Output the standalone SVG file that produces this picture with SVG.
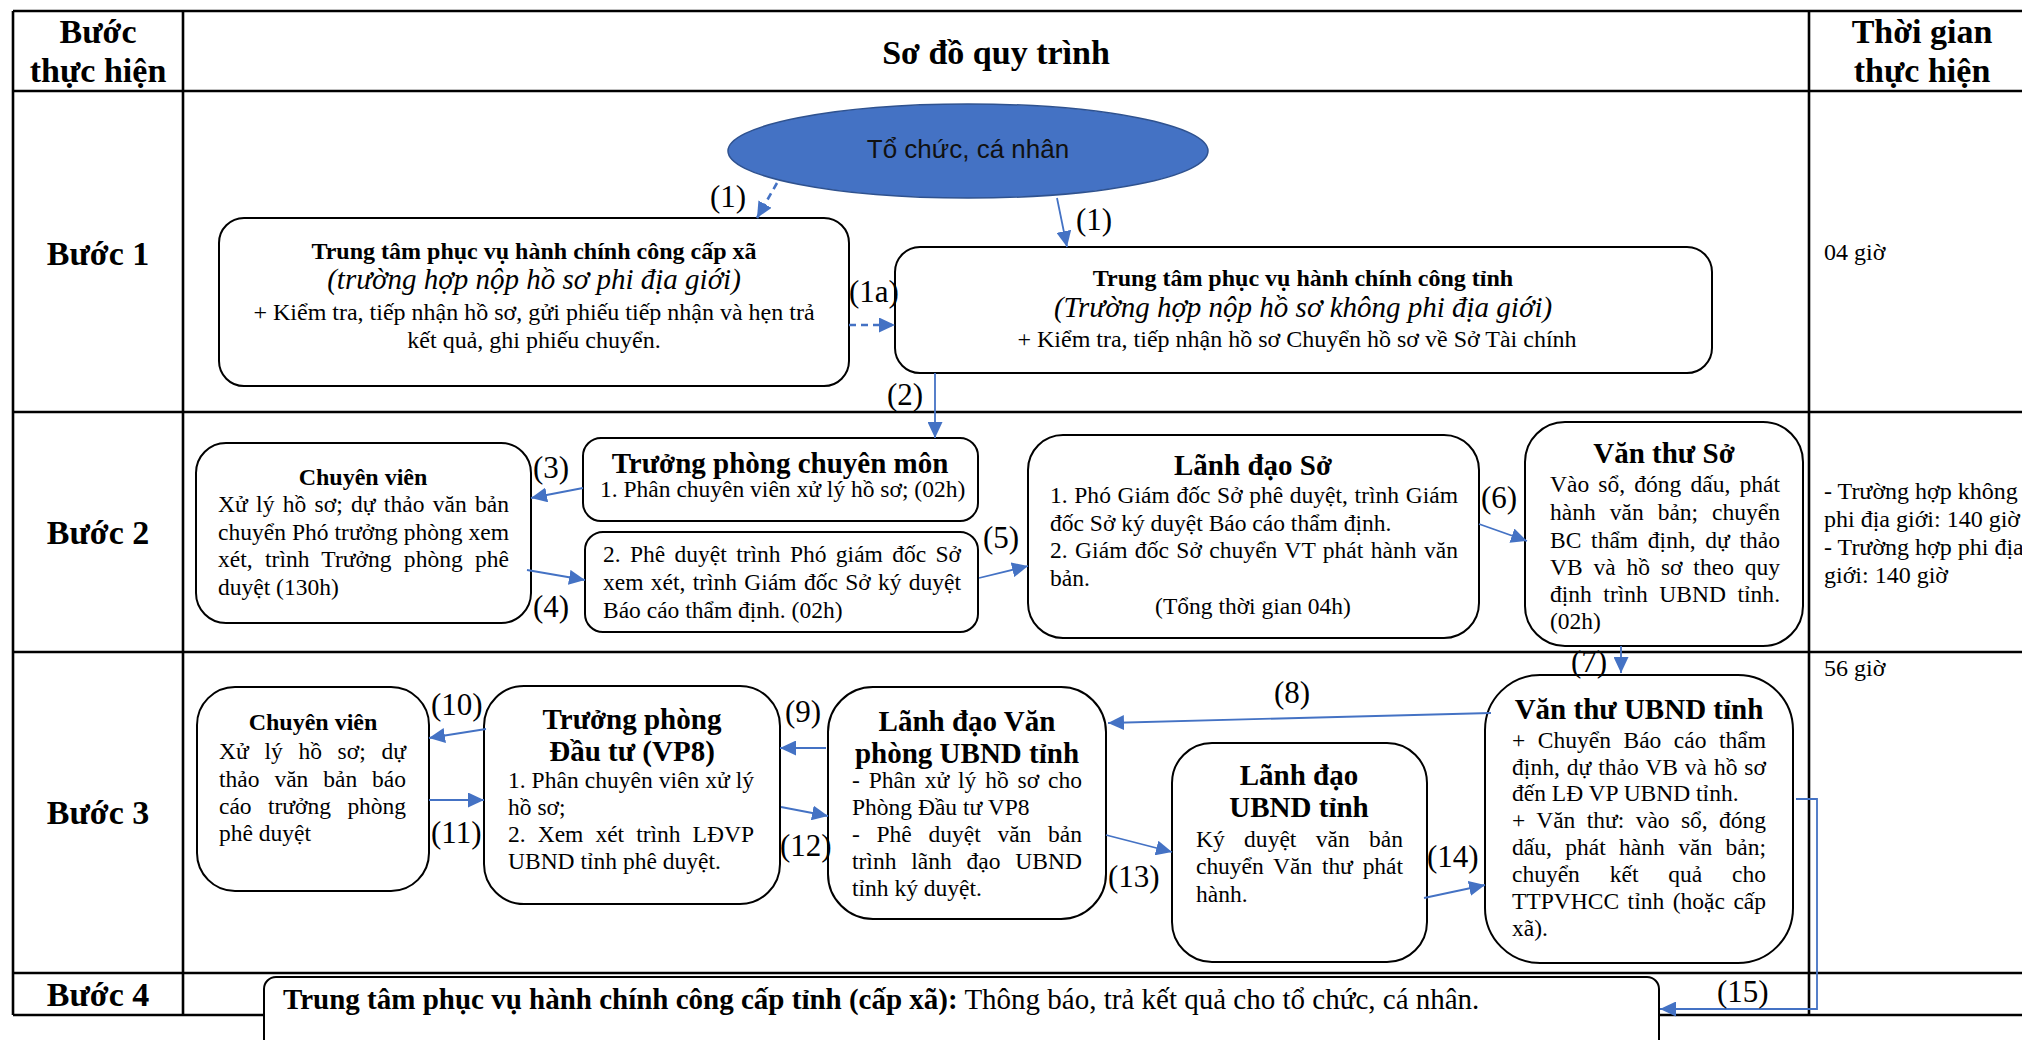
<svg xmlns="http://www.w3.org/2000/svg" width="2022" height="1040" viewBox="0 0 2022 1040">
<defs>
<marker id="ah" markerUnits="userSpaceOnUse" markerWidth="16" markerHeight="15" refX="16" refY="7.5" orient="auto"><path d="M0,0 L16,7.5 L0,15 z" fill="#4472C4"/></marker>
<style>
.tb{stroke:#000;stroke-width:2.6;fill:none}
.nd{fill:#fff;stroke:#000;stroke-width:2}
text{font-family:"Liberation Serif","Times New Roman",serif;fill:#000}
.hd{font-size:34px;font-weight:bold;text-anchor:middle}
.b24{font-size:24px;font-weight:bold;text-anchor:middle}
.b29{font-size:29px;font-weight:bold;text-anchor:middle}
.i29{font-size:29px;font-style:italic;text-anchor:middle}
.r24{font-size:24px;text-anchor:middle}
.r24s{font-size:24px}
.bd{font-size:23.5px}
.bdc{font-size:23.5px;text-anchor:middle}
.lb{font-size:31px}
.cn{stroke:#4472C4;stroke-width:1.8;fill:none;marker-end:url(#ah)}
.ds{stroke:#4472C4;stroke-width:2.6;fill:none;stroke-dasharray:7 5;marker-end:url(#ah)}
</style>
</defs>
<g id="table">
<line class="tb" x1="13" y1="11" x2="2022" y2="11"/>
<line class="tb" x1="13" y1="91" x2="2022" y2="91"/>
<line class="tb" x1="13" y1="412" x2="2022" y2="412"/>
<line class="tb" x1="13" y1="652" x2="2022" y2="652"/>
<line class="tb" x1="13" y1="973" x2="2022" y2="973"/>
<line class="tb" x1="13" y1="1015" x2="2022" y2="1015"/>
<line class="tb" x1="13" y1="11" x2="13" y2="1015"/>
<line class="tb" x1="183" y1="11" x2="183" y2="1015"/>
<line class="tb" x1="1809" y1="11" x2="1809" y2="1015"/>
<text class="hd" x="98" y="43">Bước</text>
<text class="hd" x="98" y="82">thực hiện</text>
<text class="hd" x="996" y="64">Sơ đồ quy trình</text>
<text class="hd" x="1922" y="43">Thời gian</text>
<text class="hd" x="1922" y="82">thực hiện</text>
<text class="hd" x="98" y="265">Bước 1</text>
<text class="hd" x="98" y="544">Bước 2</text>
<text class="hd" x="98" y="824">Bước 3</text>
<text class="hd" x="98" y="1006">Bước 4</text>
<text class="r24s" x="1824" y="260">04 giờ</text>
<text class="r24s" x="1824" y="499">- Trường hợp không</text>
<text class="r24s" x="1824" y="527">phi địa giới: 140 giờ</text>
<text class="r24s" x="1824" y="555">- Trường hợp phi địa</text>
<text class="r24s" x="1824" y="583">giới: 140 giờ</text>
<text class="r24s" x="1824" y="676">56 giờ</text>
</g>
<g id="n-tochuc">
<ellipse cx="968" cy="151" rx="240" ry="47" fill="#4472C4" stroke="#2F528F" stroke-width="1.5"/>
<text x="968" y="158" style="font-family:'Liberation Sans','Open Sans',sans-serif;font-size:26px;text-anchor:middle;fill:#111">Tổ chức, cá nhân</text>
</g>
<g id="n-ttxa">
<rect class="nd" x="219" y="218" width="630" height="168" rx="25"/>
<text class="b24" x="534" y="259">Trung tâm phục vụ hành chính công cấp xã</text>
<text class="i29" x="534" y="289">(trường hợp nộp hồ sơ phi địa giới)</text>
<text class="r24" x="534" y="320">+ Kiểm tra, tiếp nhận hồ sơ, gửi phiếu tiếp nhận và hẹn trả</text>
<text class="r24" x="534" y="348">kết quả, ghi phiếu chuyển.</text>
</g>
<g id="n-tttinh">
<rect class="nd" x="895" y="247" width="817" height="126" rx="25"/>
<text class="b24" x="1303" y="286">Trung tâm phục vụ hành chính công tỉnh</text>
<text class="i29" x="1303" y="317">(Trường hợp nộp hồ sơ không phi địa giới)</text>
<text class="r24" x="1297" y="347">+ Kiểm tra, tiếp nhận hồ sơ Chuyển hồ sơ về Sở Tài chính</text>
</g>
<g id="n-cv1">
<rect class="nd" x="196" y="443" width="335" height="180" rx="30"/>
<text class="b24" x="363" y="485">Chuyên viên</text>
<text class="bd" x="218" y="512" textLength="291" lengthAdjust="spacing" word-spacing="2.4">Xử lý hồ sơ; dự thảo văn bản</text>
<text class="bd" x="218" y="540" textLength="291" lengthAdjust="spacing">chuyển Phó trưởng phòng xem</text>
<text class="bd" x="218" y="567" textLength="291" lengthAdjust="spacing" word-spacing="6.4">xét, trình Trưởng phòng phê</text>
<text class="bd" x="218" y="595">duyệt (130h)</text>
</g>
<g id="n-tp1">
<rect class="nd" x="583" y="438" width="395" height="83" rx="18"/>
<text class="b29" x="780" y="473">Trưởng phòng chuyên môn</text>
<text class="bd" x="600" y="497">1. Phân chuyên viên xử lý hồ sơ; (02h)</text>
</g>
<g id="n-tp2">
<rect class="nd" x="585" y="532" width="393" height="100" rx="18"/>
<text class="bd" x="603" y="562" textLength="358" lengthAdjust="spacing" word-spacing="3.4">2. Phê duyệt trình Phó giám đốc Sở</text>
<text class="bd" x="603" y="590" textLength="358" lengthAdjust="spacing" word-spacing="1.4">xem xét, trình Giám đốc Sở ký duyệt</text>
<text class="bd" x="603" y="618">Báo cáo thẩm định. (02h)</text>
</g>
<g id="n-lds">
<rect class="nd" x="1028" y="435" width="451" height="203" rx="35"/>
<text class="b29" x="1253" y="475">Lãnh đạo Sở</text>
<text class="bd" x="1050" y="503" textLength="408" lengthAdjust="spacing" word-spacing="0.7">1. Phó Giám đốc Sở phê duyệt, trình Giám</text>
<text class="bd" x="1050" y="531">đốc Sở ký duyệt Báo cáo thẩm định.</text>
<text class="bd" x="1050" y="558" textLength="408" lengthAdjust="spacing" word-spacing="1.5">2. Giám đốc Sở chuyển VT phát hành văn</text>
<text class="bd" x="1050" y="586">bản.</text>
<text class="bdc" x="1253" y="614">(Tổng thời gian 04h)</text>
</g>
<g id="n-vts">
<rect class="nd" x="1525" y="422" width="278" height="224" rx="40"/>
<text class="b29" x="1664" y="463">Văn thư Sở</text>
<text class="bd" x="1550" y="492" textLength="230" lengthAdjust="spacing" word-spacing="3.3">Vào sổ, đóng dấu, phát</text>
<text class="bd" x="1550" y="520" textLength="230" lengthAdjust="spacing" word-spacing="8.1">hành văn bản; chuyển</text>
<text class="bd" x="1550" y="548" textLength="230" lengthAdjust="spacing" word-spacing="3.8">BC thẩm định, dự thảo</text>
<text class="bd" x="1550" y="575" textLength="230" lengthAdjust="spacing" word-spacing="4.9">VB và hồ sơ theo quy</text>
<text class="bd" x="1550" y="602" textLength="230" lengthAdjust="spacing" word-spacing="5.7">định trình UBND tỉnh.</text>
<text class="bd" x="1550" y="629">(02h)</text>
</g>
<g id="n-cv2">
<rect class="nd" x="197" y="687" width="232" height="204" rx="38"/>
<text class="b24" x="313" y="730">Chuyên viên</text>
<text class="bd" x="219" y="759" textLength="187" lengthAdjust="spacing" word-spacing="9.6">Xử lý hồ sơ; dự</text>
<text class="bd" x="219" y="787" textLength="187" lengthAdjust="spacing" word-spacing="9">thảo văn bản báo</text>
<text class="bd" x="219" y="814" textLength="187" lengthAdjust="spacing" word-spacing="10.7">cáo trưởng phòng</text>
<text class="bd" x="219" y="841">phê duyệt</text>
</g>
<g id="n-tp3">
<rect class="nd" x="484" y="686" width="296" height="218" rx="40"/>
<text class="b29" x="632" y="729">Trưởng phòng</text>
<text class="b29" x="632" y="761">Đầu tư (VP8)</text>
<text class="bd" x="508" y="788" textLength="246" lengthAdjust="spacing">1. Phân chuyên viên xử lý</text>
<text class="bd" x="508" y="815">hồ sơ;</text>
<text class="bd" x="508" y="842" textLength="246" lengthAdjust="spacing" word-spacing="6.2">2. Xem xét trình LĐVP</text>
<text class="bd" x="508" y="869">UBND tỉnh phê duyệt.</text>
</g>
<g id="n-ldvp">
<rect class="nd" x="828" y="687" width="278" height="232" rx="45"/>
<text class="b29" x="967" y="731">Lãnh đạo Văn</text>
<text class="b29" x="967" y="763">phòng UBND tỉnh</text>
<text class="bd" x="852" y="788" textLength="230" lengthAdjust="spacing" word-spacing="2.9">- Phân xử lý hồ sơ cho</text>
<text class="bd" x="852" y="815">Phòng Đầu tư VP8</text>
<text class="bd" x="852" y="842" textLength="230" lengthAdjust="spacing" word-spacing="10.8">- Phê duyệt văn bản</text>
<text class="bd" x="852" y="869" textLength="230" lengthAdjust="spacing" word-spacing="9">trình lãnh đạo UBND</text>
<text class="bd" x="852" y="896">tỉnh ký duyệt.</text>
</g>
<g id="n-ldubnd">
<rect class="nd" x="1172" y="743" width="255" height="219" rx="40"/>
<text class="b29" x="1299" y="785">Lãnh đạo</text>
<text class="b29" x="1299" y="817">UBND tỉnh</text>
<text class="bd" x="1196" y="847" textLength="207" lengthAdjust="spacing" word-spacing="13.5">Ký duyệt văn bản</text>
<text class="bd" x="1196" y="874" textLength="207" lengthAdjust="spacing" word-spacing="4">chuyển Văn thư phát</text>
<text class="bd" x="1196" y="902">hành.</text>
</g>
<g id="n-vtu">
<rect class="nd" x="1485" y="675" width="308" height="288" rx="55"/>
<text class="b29" x="1639" y="719">Văn thư UBND tỉnh</text>
<text class="bd" x="1512" y="748" textLength="254" lengthAdjust="spacing" word-spacing="6.7">+ Chuyển Báo cáo thẩm</text>
<text class="bd" x="1512" y="775" textLength="254" lengthAdjust="spacing" word-spacing="0.9">định, dự thảo VB và hồ sơ</text>
<text class="bd" x="1512" y="801">đến LĐ VP UBND tỉnh.</text>
<text class="bd" x="1512" y="828" textLength="254" lengthAdjust="spacing" word-spacing="5.6">+ Văn thư: vào sổ, đóng</text>
<text class="bd" x="1512" y="855" textLength="254" lengthAdjust="spacing" word-spacing="7.5">dấu, phát hành văn bản;</text>
<text class="bd" x="1512" y="882" textLength="254" lengthAdjust="spacing" word-spacing="24">chuyển kết quả cho</text>
<text class="bd" x="1512" y="909" textLength="254" lengthAdjust="spacing" word-spacing="2.7">TTPVHCC tỉnh (hoặc cấp</text>
<text class="bd" x="1512" y="936">xã).</text>
</g>
<g id="n-buoc4">
<rect class="nd" x="264" y="977" width="1395" height="90" rx="12"/>
<text x="283" y="1009" style="font-size:29px"><tspan font-weight="bold">Trung tâm phục vụ hành chính công cấp tỉnh (cấp xã):</tspan> Thông báo, trả kết quả cho tổ chức, cá nhân.</text>
</g>
<g id="connectors">
<line class="ds" x1="777" y1="183" x2="757" y2="218"/>
<line class="cn" x1="1057" y1="198" x2="1067" y2="247"/>
<line class="ds" x1="849" y1="325" x2="895" y2="325"/>
<line class="cn" x1="935" y1="373" x2="935" y2="438"/>
<line class="cn" x1="583" y1="488" x2="531" y2="498"/>
<line class="cn" x1="527" y1="570" x2="585" y2="580"/>
<line class="cn" x1="979" y1="578" x2="1028" y2="566"/>
<line class="cn" x1="1479" y1="524" x2="1527" y2="541"/>
<line class="cn" x1="1621" y1="646" x2="1621" y2="673"/>
<line class="cn" x1="1491" y1="713" x2="1108" y2="723"/>
<line class="cn" x1="826" y1="748" x2="780" y2="748"/>
<line class="cn" x1="486" y1="729" x2="429" y2="738"/>
<line class="cn" x1="429" y1="800" x2="484" y2="800"/>
<line class="cn" x1="781" y1="807" x2="828" y2="816"/>
<line class="cn" x1="1106" y1="835" x2="1172" y2="852"/>
<line class="cn" x1="1424" y1="898" x2="1485" y2="885"/>
<polyline class="cn" points="1796,799 1817,799 1817,1009 1660,1009"/>
<text class="lb" x="710" y="207">(1)</text>
<text class="lb" x="1076" y="230">(1)</text>
<text class="lb" x="849" y="302">(1a)</text>
<text class="lb" x="887" y="405">(2)</text>
<text class="lb" x="533" y="478">(3)</text>
<text class="lb" x="533" y="617">(4)</text>
<text class="lb" x="983" y="548">(5)</text>
<text class="lb" x="1481" y="508">(6)</text>
<text class="lb" x="1571" y="672">(7)</text>
<text class="lb" x="1274" y="703">(8)</text>
<text class="lb" x="785" y="722">(9)</text>
<text class="lb" x="431" y="715">(10)</text>
<text class="lb" x="431" y="843">(11)</text>
<text class="lb" x="780" y="856">(12)</text>
<text class="lb" x="1108" y="887">(13)</text>
<text class="lb" x="1427" y="867">(14)</text>
<text class="lb" x="1717" y="1002">(15)</text>
</g>
</svg>
